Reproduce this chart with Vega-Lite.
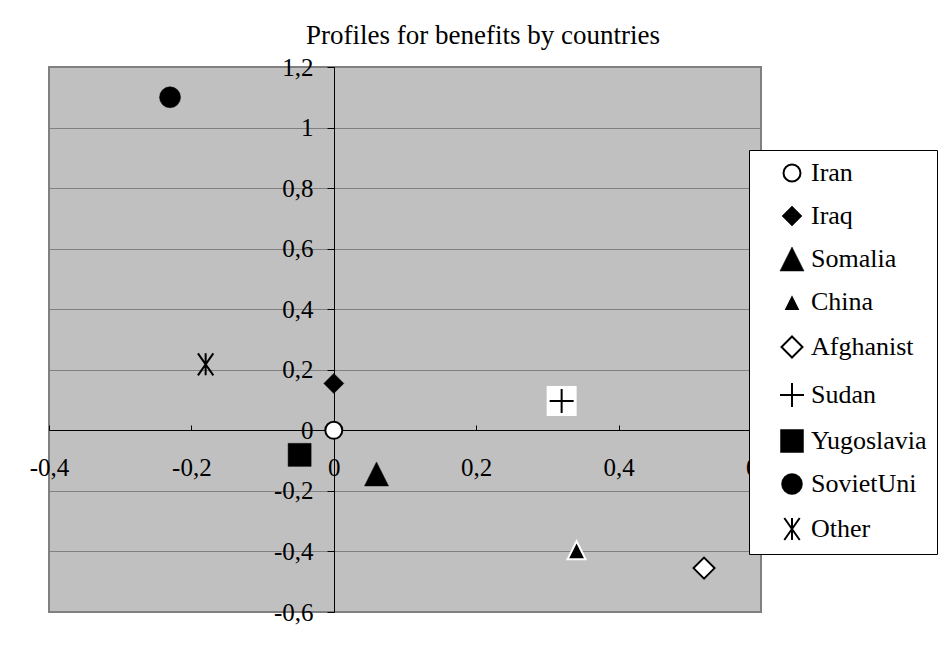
{
  "$schema": "https://vega.github.io/schema/vega-lite/v6.json",
  "width": 712,
  "height": 545,
  "autosize": {"type": "none"},
  "padding": {"left": 49, "top": 67, "right": 188, "bottom": 41},
  "background": "white",
  "title": {
    "text": "Profiles for benefits by countries",
    "font": "Liberation Serif, Times New Roman, serif",
    "fontSize": 27,
    "fontWeight": "normal",
    "color": "black",
    "anchor": "middle",
    "dx": 78,
    "offset": 5
  },
  "data": {
    "values": [
      {"country": "Iran", "x": 0, "y": 0},
      {"country": "Iraq", "x": 0, "y": 0.155},
      {"country": "Somalia", "x": 0.06, "y": -0.144},
      {"country": "China", "x": 0.341, "y": -0.396},
      {"country": "Afghanist", "x": 0.52, "y": -0.455},
      {"country": "Sudan", "x": 0.32, "y": 0.097},
      {"country": "Yugoslavia", "x": -0.048, "y": -0.081},
      {"country": "SovietUni", "x": -0.23, "y": 1.1},
      {"country": "Other", "x": -0.18, "y": 0.218}
    ]
  },
  "encoding": {
    "x": {
      "field": "x",
      "type": "quantitative",
      "scale": {"domain": [-0.4, 0.6], "nice": false, "zero": false},
      "axis": {
        "title": null,
        "offset": -182,
        "values": [-0.4, -0.2, 0, 0.2, 0.4, 0.6],
        "grid": false,
        "domainColor": "black",
        "domainWidth": 1,
        "tickColor": "black",
        "tickSize": -5,
        "labelPadding": 30,
        "labelFont": "Liberation Serif, Times New Roman, serif",
        "labelFontSize": 25,
        "labelColor": "black",
        "labelOverlap": false,
        "labelFlush": false,
        "labelExpr": "(datum.value < 0 ? '-' : '') + replace(format(abs(datum.value), '.1~f'), '.', ',')",
        "zindex": 0
      }
    },
    "y": {
      "field": "y",
      "type": "quantitative",
      "scale": {"domain": [-0.6, 1.2], "nice": false, "zero": false},
      "axis": {
        "title": null,
        "offset": -285,
        "values": [-0.6, -0.4, -0.2, 0, 0.2, 0.4, 0.6, 0.8, 1, 1.2],
        "grid": true,
        "gridColor": "#808080",
        "gridWidth": 1,
        "gridOpacity": 1,
        "domainColor": "black",
        "domainWidth": 1,
        "tickColor": "black",
        "tickSize": 7,
        "labelPadding": 14,
        "labelFont": "Liberation Serif, Times New Roman, serif",
        "labelFontSize": 25,
        "labelColor": "black",
        "labelOverlap": false,
        "labelFlush": false,
        "labelExpr": "(datum.value < 0 ? '-' : '') + replace(format(abs(datum.value), '.1~f'), '.', ',')",
        "zindex": 0
      }
    }
  },
  "layer": [
    {
      "transform": [{"filter": "datum.country == 'Sudan'"}],
      "mark": {"type": "square", "color": "white", "size": 900, "opacity": 1}
    },
    {
      "mark": {"type": "point", "filled": true, "opacity": 1},
      "encoding": {
        "shape": {
          "field": "country",
          "type": "nominal",
          "scale": {
            "domain": ["Iran", "Iraq", "Somalia", "China", "Afghanist", "Sudan", "Yugoslavia", "SovietUni", "Other"],
            "range": ["circle", "M0,-1L1,0L0,1L-1,0Z", "M0,-1L1,1L-1,1Z", "M0,-1L1,1L-1,1Z", "M0,-1L1,0L0,1L-1,0Z", "M-1,0L1,0M0,-1L0,1", "M-1,-1L1,-1L1,1L-1,1Z", "circle", "M-0.7,-1L0.7,1M0.7,-1L-0.7,1M0,-1L0,1"]
          },
          "legend": {"title": null}
        },
        "size": {
          "field": "country",
          "type": "nominal",
          "scale": {
            "type": "ordinal",
            "domain": ["Iran", "Iraq", "Somalia", "China", "Afghanist", "Sudan", "Yugoslavia", "SovietUni", "Other"],
            "range": [289, 400, 576, 324, 441, 576, 529, 441, 484]
          },
          "legend": {"title": null}
        },
        "fill": {
          "field": "country",
          "type": "nominal",
          "scale": {
            "domain": ["Iran", "Iraq", "Somalia", "China", "Afghanist", "Sudan", "Yugoslavia", "SovietUni", "Other"],
            "range": ["white", "black", "black", "black", "white", "transparent", "black", "black", "transparent"]
          },
          "legend": {"title": null}
        },
        "stroke": {
          "field": "country",
          "type": "nominal",
          "scale": {
            "domain": ["Iran", "Iraq", "Somalia", "China", "Afghanist", "Sudan", "Yugoslavia", "SovietUni", "Other"],
            "range": ["black", "black", "black", "white", "black", "black", "black", "black", "black"]
          },
          "legend": {"title": null}
        },
        "strokeWidth": {
          "field": "country",
          "type": "nominal",
          "scale": {
            "type": "ordinal",
            "domain": ["Iran", "Iraq", "Somalia", "China", "Afghanist", "Sudan", "Yugoslavia", "SovietUni", "Other"],
            "range": [2, 0.5, 0.5, 2, 2, 2, 0.5, 0.5, 2]
          },
          "legend": {"title": null}
        }
      }
    }
  ],
  "config": {
    "font": "Liberation Serif, Times New Roman, serif",
    "view": {"fill": "#C0C0C0", "stroke": "#808080", "strokeWidth": 2},
    "legend": {
      "orient": "none",
      "legendX": 700,
      "legendY": 83,
      "fillColor": "white",
      "strokeColor": "black",
      "strokeWidth": 1,
      "padding": 10,
      "rowPadding": 17,
      "symbolOffset": 20,
      "labelOffset": 6,
      "labelFont": "Liberation Serif, Times New Roman, serif",
      "labelFontSize": 26,
      "labelColor": "black",
      "labelLimit": 300,
      "zindex": 1
    }
  }
}
